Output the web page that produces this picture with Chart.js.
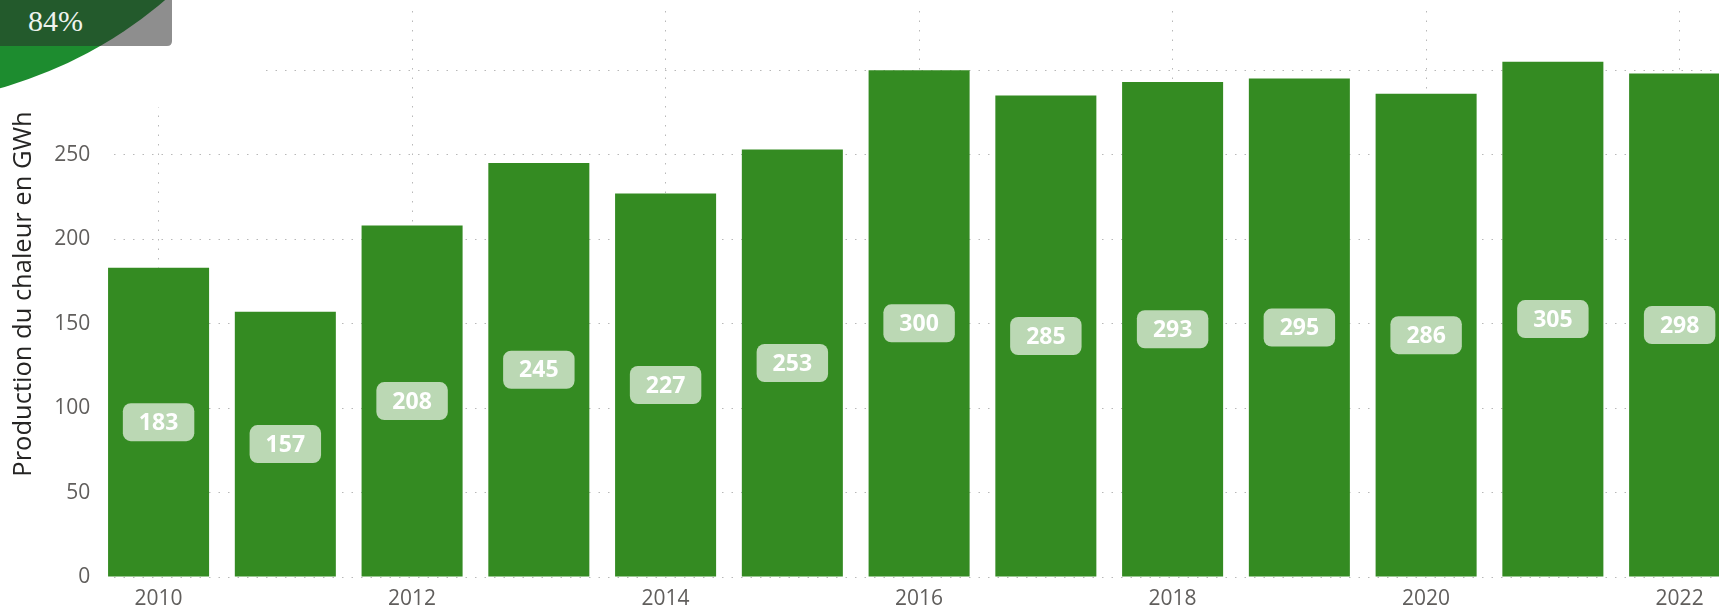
<!DOCTYPE html>
<html>
<head>
<meta charset="utf-8">
<script src="https://cdn.jsdelivr.net/npm/chart.js@4/dist/chart.umd.min.js"></script>
<style>
  html, body { margin: 0; padding: 0; background: #fff; overflow: hidden; width: 1719px; height: 608px; }
  #wrap { position: absolute; left: 0; top: 0; width: 1743px; height: 608px; }
  #overlay { position: absolute; left: 0; top: 0; width: 266px; height: 107px; background: #fff; }
  #overlay svg { position: absolute; left: 0; top: 0; }
</style>
</head>
<body>
<div id="wrap"><canvas id="c" width="1743" height="608"></canvas></div>
<div id="overlay">
  <svg width="266" height="107" viewBox="0 0 266 107">
    <defs>
      <clipPath id="card"><path d="M0,0 H172 V41 Q172,46 167,46 H0 Z"/></clipPath>
    </defs>
    <circle cx="-116" cy="-328" r="432" fill="#1d8c2f"/>
    <g clip-path="url(#card)">
      <rect x="0" y="0" width="172" height="46" fill="#8e8e8e"/>
      <circle cx="-116" cy="-328" r="432" fill="#235a2c"/>
    </g>
    <text x="28" y="31" font-family="Liberation Serif" font-size="30" fill="#eef3ee">84%</text>
  </svg>
</div>
<script>
const years = ['2010','2011','2012','2013','2014','2015','2016','2017','2018','2019','2020','2021','2022'];
const production = [183, 157, 208, 245, 227, 253, 300, 285, 293, 295, 286, 305, 298];
const yTickValues = [0, 50, 100, 150, 200, 250, 300];
const yAxisTitle = 'Production du chaleur en GWh';

const BAR_COLOR = '#348b22';
const GRID_COLOR = '#b8b8b8';
const TICK_COLOR = '#605e5c';

const valueLabels = {
  id: 'valueLabels',
  afterDatasetsDraw(chart) {
    const ctx = chart.ctx;
    const meta = chart.getDatasetMeta(0);
    ctx.save();
    ctx.font = 'bold 23px "Open Sans"';
    ctx.textAlign = 'center';
    ctx.textBaseline = 'middle';
    meta.data.forEach((bar, i) => {
      const txt = String(production[i]);
      const cy = (bar.y + bar.base) / 2;
      const w = ctx.measureText(txt).width + 32;
      const h = 38;
      ctx.fillStyle = '#bbd8b4';
      ctx.beginPath();
      ctx.roundRect(bar.x - w / 2, cy - h / 2, w, h, 8);
      ctx.fill();
      ctx.fillStyle = '#ffffff';
      ctx.fillText(txt, bar.x, cy + 1);
    });
    ctx.restore();
  }
};

const gridMask = {
  id: 'gridMask',
  beforeDatasetsDraw(chart) {
    const meta = chart.getDatasetMeta(0);
    const first = meta.data[0];
    if (!first) return;
    const a = chart.chartArea;
    const edge = first.x - first.width / 2 - 1;
    const ctx = chart.ctx;
    ctx.save();
    ctx.fillStyle = '#fff';
    ctx.fillRect(a.left - 1, a.top, edge - a.left + 1, a.bottom - a.top + 2);
    ctx.restore();
  }
};

new Chart(document.getElementById('c'), {
  type: 'bar',
  data: {
    labels: years,
    datasets: [{
      data: production,
      backgroundColor: BAR_COLOR,
      barPercentage: 0.797,
      categoryPercentage: 1.0
    }]
  },
  options: {
    responsive: false,
    animation: false,
    layout: { padding: { top: 11, right: 0, bottom: 0, left: 0 } },
    plugins: { legend: { display: false }, tooltip: { enabled: false } },
    scales: {
      x: {
        offset: true,
        border: { display: false, dash: [1.5, 8] },
        grid: {
          offset: false,
          drawTicks: false,
          color: (c) => (c.index % 2 === 0 ? GRID_COLOR : 'rgba(0,0,0,0)'),
          lineWidth: 1
        },
        ticks: {
          autoSkip: false,
          maxRotation: 0,
          padding: 9,
          color: TICK_COLOR,
          font: { family: '"Open Sans"', size: 21 },
          callback: (v, i) => (i % 2 === 0 ? years[i] : '')
        },
        afterFit: (s) => { s.height = 31; s.paddingLeft = 0; s.paddingRight = 0; }
      },
      y: {
        min: 0,
        max: 335,
        border: { display: false, dash: [1.5, 8] },
        grid: { drawTicks: false, color: GRID_COLOR, lineWidth: 1 },
        ticks: {
          stepSize: 50,
          includeBounds: false,
          padding: 5,
          color: TICK_COLOR,
          font: { family: '"Open Sans"', size: 21 },
          callback: (v) => (yTickValues.includes(v) ? String(v) : '')
        },
        title: {
          display: true,
          text: yAxisTitle,
          color: '#252423',
          font: { family: '"Open Sans"', size: 25.5 },
          padding: { top: 8, bottom: 0 }
        },
        afterFit: (s) => { s.width = 95.2; s.paddingTop = 0; s.paddingBottom = 0; }
      }
    }
  },
  plugins: [gridMask, valueLabels]
});
</script>
</body>
</html>
